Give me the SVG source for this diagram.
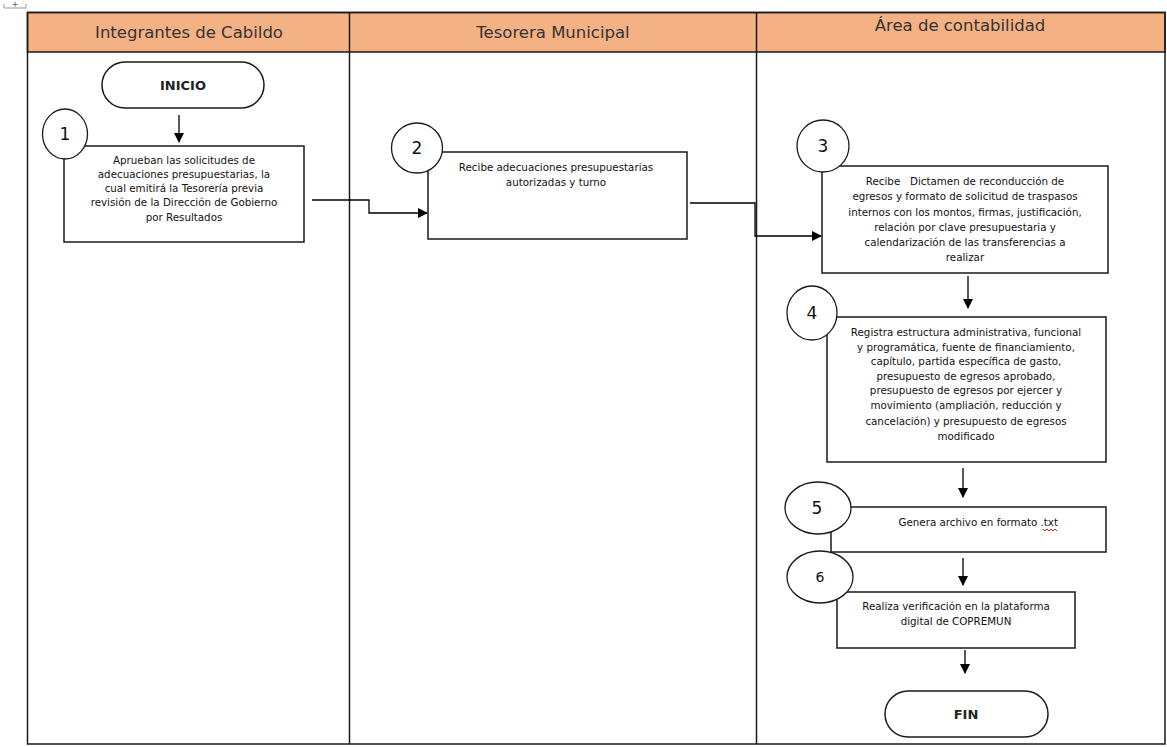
<svg xmlns="http://www.w3.org/2000/svg" width="1167" height="747" viewBox="0 0 1167 747">
<style>
.lane{fill:none;stroke:#1a1a1a;stroke-width:1.5}
.hdr{fill:#F4B183;stroke:#1a1a1a;stroke-width:1.5}
.htxt{font-family:"DejaVu Sans","Liberation Sans",sans-serif;font-size:16.5px;fill:#333;text-anchor:middle}
.box{fill:#fff;stroke:#1a1a1a;stroke-width:1.5}
.num{fill:#fff;stroke:#1a1a1a;stroke-width:1.3}
.ntxt{font-family:"DejaVu Sans","Liberation Sans",sans-serif;font-size:17px;fill:#111;text-anchor:middle}
.t{font-family:"DejaVu Sans","Liberation Sans",sans-serif;font-size:10.3px;fill:#111;text-anchor:middle}
.term{font-family:"DejaVu Sans","Liberation Sans",sans-serif;font-size:13px;font-weight:bold;fill:#222;text-anchor:middle}
.con{fill:none;stroke:#000;stroke-width:1.3}
</style>
<defs>
<marker id="ah" markerWidth="10" markerHeight="10" refX="9" refY="5" orient="auto" markerUnits="userSpaceOnUse">
<path d="M0,0 L10,5 L0,10 Z" fill="#000"/>
</marker>
</defs>
<rect width="1167" height="747" fill="#fff"/>
<g id="handle">
<path d="M4,4 V8 H26 V4" fill="none" stroke="#999" stroke-width="1"/>
<text x="15" y="7" font-family="DejaVu Sans,sans-serif" font-size="8" fill="#555" text-anchor="middle">+</text>
</g>
<g id="lanes">
<rect class="hdr" x="27.5" y="12.5" width="1137.5" height="39.5"/>
<rect class="lane" x="27.5" y="12.5" width="1137.5" height="731.5"/>
<line class="lane" x1="349.5" y1="12.5" x2="349.5" y2="744"/>
<line class="lane" x1="756.5" y1="12.5" x2="756.5" y2="744"/>
<text class="htxt" x="189" y="38">Integrantes de Cabildo</text>
<text class="htxt" x="553" y="38">Tesorera Municipal</text>
<text class="htxt" x="960" y="31">Área de contabilidad</text>
</g>
<g id="connectors">
<line class="con" x1="179" y1="115" x2="179" y2="142" marker-end="url(#ah)"/>
<polyline class="con" points="312,200 369,200 369,213 427,213" marker-end="url(#ah)"/>
<polyline class="con" points="690,203 755,203 755,236 821,236" marker-end="url(#ah)"/>
<line class="con" x1="968" y1="276" x2="968" y2="308" marker-end="url(#ah)"/>
<line class="con" x1="963" y1="468" x2="963" y2="497" marker-end="url(#ah)"/>
<line class="con" x1="963" y1="558" x2="963" y2="585" marker-end="url(#ah)"/>
<line class="con" x1="965" y1="650" x2="965" y2="673" marker-end="url(#ah)"/>
</g>
<g id="inicio">
<rect class="box" x="102" y="62" width="162" height="46" rx="23"/>
<text class="term" x="183" y="90">INICIO</text>
</g>
<g id="step1">
<rect class="box" x="64" y="146" width="240" height="96"/>
<ellipse class="num" cx="65" cy="134" rx="22.5" ry="25"/>
<text class="ntxt" x="65" y="140">1</text>
<text class="t" x="184" y="164">Aprueban las solicitudes de</text>
<text class="t" x="184" y="178">adecuaciones presupuestarias, la</text>
<text class="t" x="184" y="192">cual emitirá la Tesorería previa</text>
<text class="t" x="184" y="206">revisión de la Dirección de Gobierno</text>
<text class="t" x="184" y="221">por Resultados</text>
</g>
<g id="step2">
<rect class="box" x="428" y="152" width="259" height="87"/>
<ellipse class="num" cx="417" cy="148" rx="25.5" ry="25"/>
<text class="ntxt" x="417" y="154">2</text>
<text class="t" x="556" y="171">Recibe adecuaciones presupuestarias</text>
<text class="t" x="556" y="186">autorizadas y turno</text>
</g>
<g id="step3">
<rect class="box" x="822" y="166" width="286" height="107"/>
<ellipse class="num" cx="823" cy="146" rx="26" ry="26"/>
<text class="ntxt" x="823" y="152">3</text>
<text class="t" x="965" y="185" xml:space="preserve">Recibe   Dictamen de reconducción de</text>
<text class="t" x="965" y="200">egresos y formato de solicitud de traspasos</text>
<text class="t" x="965" y="216">internos con los montos, firmas, justificación,</text>
<text class="t" x="965" y="231">relación por clave presupuestaria y</text>
<text class="t" x="965" y="246">calendarización de las transferencias a</text>
<text class="t" x="965" y="261">realizar</text>
</g>
<g id="step4">
<rect class="box" x="827" y="317" width="279" height="145"/>
<ellipse class="num" cx="812" cy="313" rx="25" ry="27"/>
<text class="ntxt" x="812" y="319">4</text>
<text class="t" x="966" y="336">Registra estructura administrativa, funcional</text>
<text class="t" x="966" y="351">y programática, fuente de financiamiento,</text>
<text class="t" x="966" y="365">capítulo, partida específica de gasto,</text>
<text class="t" x="966" y="380">presupuesto de egresos aprobado,</text>
<text class="t" x="966" y="394">presupuesto de egresos por ejercer y</text>
<text class="t" x="966" y="409">movimiento (ampliación, reducción y</text>
<text class="t" x="966" y="425">cancelación) y presupuesto de egresos</text>
<text class="t" x="966" y="440">modificado</text>
</g>
<g id="step5">
<rect class="box" x="831" y="507" width="275" height="45"/>
<ellipse class="num" cx="818" cy="508" rx="33" ry="26"/>
<text class="ntxt" x="817" y="514">5</text>
<text class="t" x="1058" y="526" style="text-anchor:end">Genera archivo en formato .txt</text>
<path d="M1043,529 l2,2 l2,-2 l2,2 l2,-2 l2,2 l2,-2 l2,2" fill="none" stroke="#e02020" stroke-width="1"/>
</g>
<g id="step6">
<rect class="box" x="837" y="592" width="238" height="56"/>
<ellipse class="num" cx="820" cy="577" rx="33" ry="26"/>
<text class="ntxt" x="820" y="582" style="font-size:14px">6</text>
<text class="t" x="956" y="610">Realiza verificación en la plataforma</text>
<text class="t" x="956" y="625">digital de COPREMUN</text>
</g>
<g id="fin">
<rect class="box" x="885" y="691" width="163" height="46" rx="23"/>
<text class="term" x="966" y="719">FIN</text>
</g>
</svg>
